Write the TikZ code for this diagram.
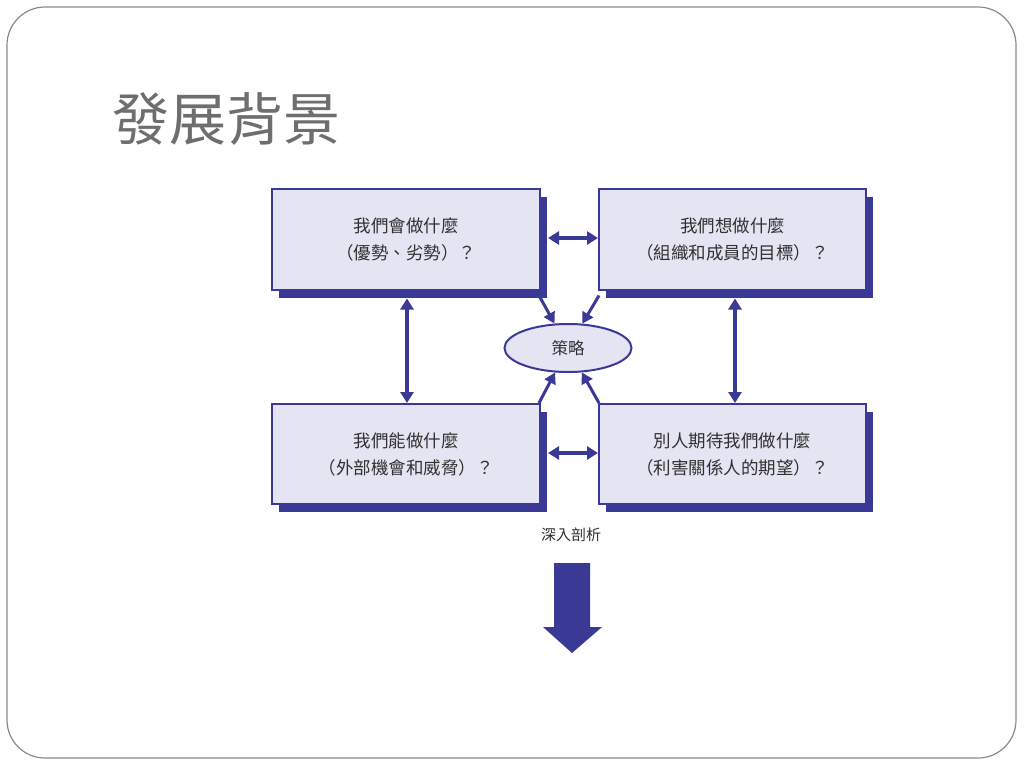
\documentclass[tikz,border=0pt]{standalone}
\usepackage{fontspec}
\setmainfont{Noto Sans CJK TC}
\usetikzlibrary{arrows.meta,shapes.geometric,shadows}
\definecolor{bblue}{HTML}{3A3A96}
\definecolor{lav}{HTML}{E4E4F3}
\definecolor{txt}{HTML}{303030}
\definecolor{ttl}{HTML}{6E6E6E}
\definecolor{frm}{HTML}{8A8A8A}
\tikzset{
  box/.style={draw=bblue, line width=2pt, fill=lav, minimum width=268pt, minimum height=101pt,
    align=center, text=txt, font=\fontsize{17.5}{27}\selectfont, inner sep=0pt,
    drop shadow={shadow xshift=7pt, shadow yshift=-8pt, fill=bblue, opacity=1}},
  oval/.style={ellipse, draw=bblue, line width=2pt, fill=lav, minimum width=127pt, minimum height=48pt,
    text=txt, font=\fontsize{16.5}{18}\selectfont, inner sep=0pt},
  dbl/.style={draw=bblue, line width=3.5pt, {Triangle[length=11pt,width=13pt]}-{Triangle[length=11pt,width=13pt]}},
  sarr/.style={draw=bblue, line width=3pt, -{Triangle[length=11pt,width=12pt]}},
}
\begin{document}
\begin{tikzpicture}[x=1pt,y=-1pt]
\useasboundingbox (0,0) rectangle (1024,768);
\draw[frm, line width=1.2pt, rounded corners=38pt] (7,7) rectangle (1016,758);
\node[text=ttl, font=\fontsize{57}{60}\selectfont, anchor=west, inner sep=0pt] (title) at (112,119) {發展背景};
\node[box] (tl) at (406,239) {我們會做什麼\\（優勢、劣勢）？};
\node[box, minimum width=267pt] (tr) at (732.5,239) {我們想做什麼\\（組織和成員的目標）？};
\node[box, minimum height=100pt] (bl) at (406,454) {我們能做什麼\\（外部機會和威脅）？};
\node[box, minimum width=267pt, minimum height=100pt] (br) at (732.5,454) {別人期待我們做什麼\\（利害關係人的期望）？};
\node[oval] (st) at (568,348) {策略};
\draw[dbl] ([xshift=7pt,yshift=1pt]tl.east) -- ([yshift=1pt]tr.west);
\draw[dbl] ([xshift=7pt,yshift=1pt]bl.east) -- ([yshift=1pt]br.west);
\draw[dbl] ([xshift=1pt,yshift=-8pt]tl.south) -- ([xshift=1pt]bl.north);
\draw[dbl] ([xshift=2.5pt,yshift=-8pt]tr.south) -- ([xshift=2.5pt]br.north);
\draw[sarr] ([xshift=-2pt,yshift=-5pt]tl.south east) -- (st);
\draw[sarr] ([xshift=1pt,yshift=-5pt]tr.south west) -- (st);
\draw[sarr] ([xshift=-2pt]bl.north east) -- (st);
\draw[sarr] ([xshift=1pt]br.north west) -- (st);
\node[text=txt, font=\fontsize{15}{17}\selectfont, inner sep=0pt] (deep) at (571,535) {深入剖析};
\fill[bblue] (554,563) -- (590,563) -- (590,627) -- (602,627) -- (572,653) -- (543,627) -- (554,627) -- cycle;
\end{tikzpicture}
\end{document}
